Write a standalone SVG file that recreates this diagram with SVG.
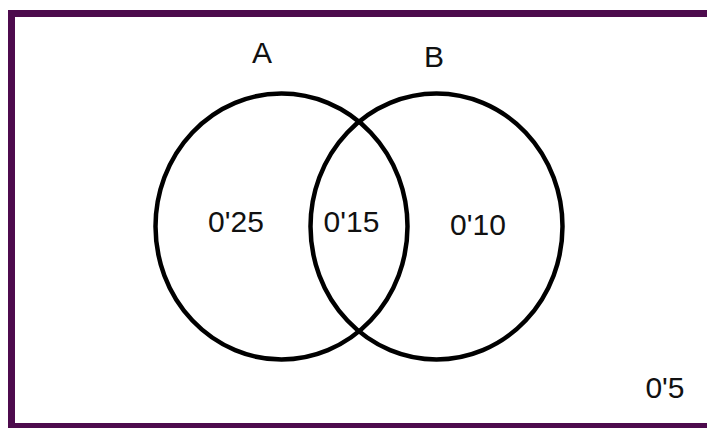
<svg xmlns="http://www.w3.org/2000/svg" width="707" height="428" viewBox="0 0 707 428">
<style>
.set{fill:none;stroke:#000;stroke-width:4.5}
.lbl{font-family:"Liberation Sans",Arial,sans-serif;font-size:30px;fill:#111;text-anchor:middle}
</style>
<rect x="0" y="0" width="707" height="428" fill="#fff"/>
<rect id="frame" x="11.5" y="13.5" width="710" height="413" fill="none" stroke="#4d0b4d" stroke-width="7"/>
<g id="setA">
<ellipse class="set" cx="281.5" cy="226.5" rx="126" ry="133"/>
<text class="lbl" x="262" y="63">A</text>
</g>
<g id="setB">
<ellipse class="set" cx="436.5" cy="226.5" rx="126" ry="133"/>
<text class="lbl" x="434" y="67">B</text>
</g>
<g id="onlyA"><text class="lbl" x="236" y="232">0'25</text></g>
<g id="AandB"><text class="lbl" x="351.5" y="232">0'15</text></g>
<g id="onlyB"><text class="lbl" x="478" y="235">0'10</text></g>
<g id="neither"><text class="lbl" x="665" y="398">0'5</text></g>
<g id="connectors"></g>
</svg>
